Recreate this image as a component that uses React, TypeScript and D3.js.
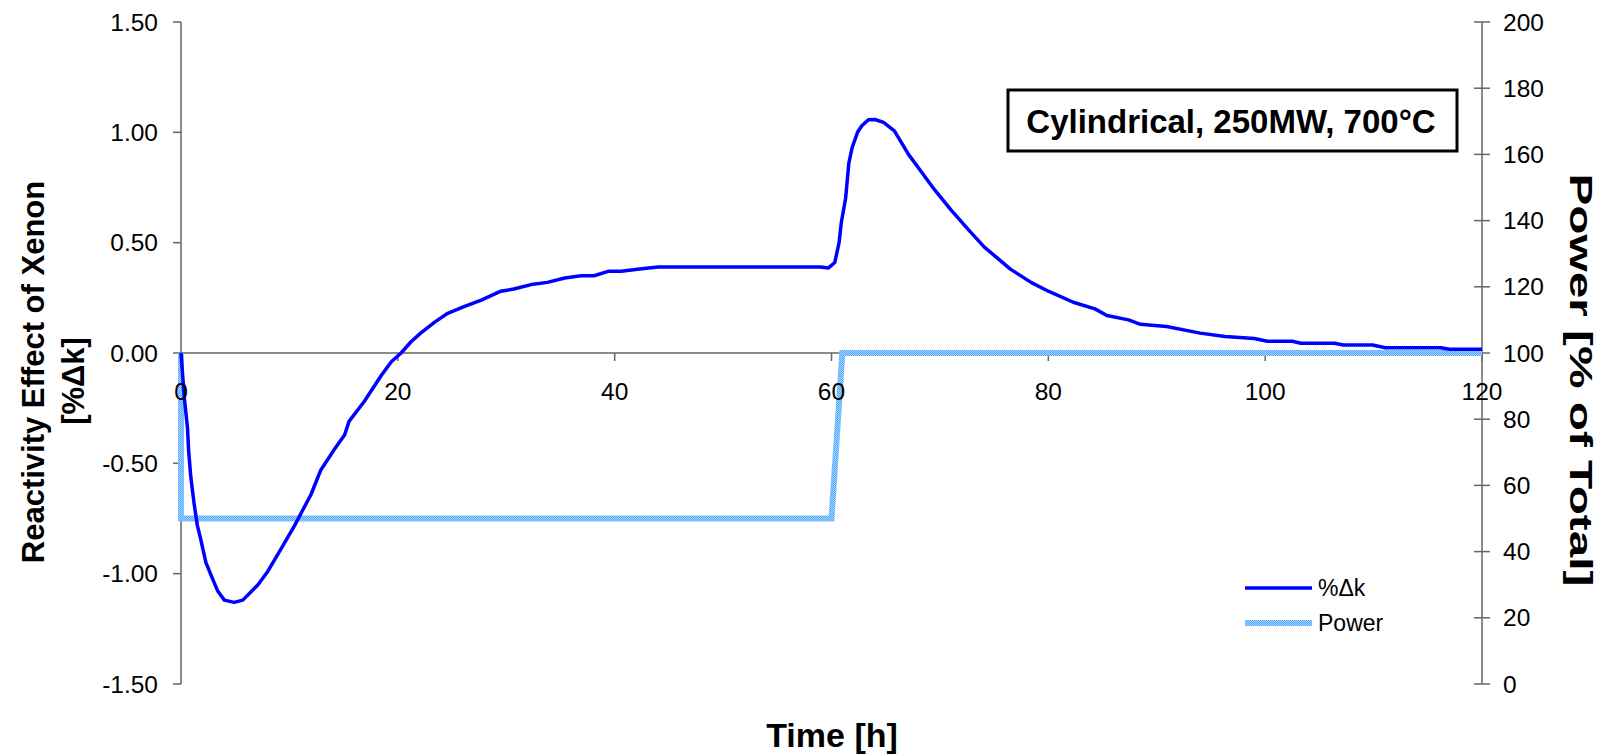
import React from 'react'
import * as d3 from 'd3'

// xenon reactivity (%Δk)
const timeH = [0, 0.3, 0.6, 0.7, 0.9, 1.2, 1.5, 1.8, 2.3, 2.8, 3.4, 4.0, 4.9, 5.7, 7.1, 8.0, 9.2, 10.5, 12.0, 12.9, 14.1, 15.1, 15.5, 16.9, 18.5, 19.4, 20.3, 21.2, 22.1, 23.4, 24.6, 26.1, 27.7, 29.5, 30.7, 32.3, 33.8, 35.4, 36.9, 38.1, 39.4, 40.6, 42.1, 44.0, 46.0, 59.0, 59.7, 60.3, 60.7, 60.9, 61.3, 61.6, 61.9, 62.4, 62.8, 63.4, 64.0, 64.8, 65.8, 67.1, 68.3, 69.5, 71.0, 72.6, 74.1, 75.3, 76.5, 78.4, 80.0, 82.3, 84.3, 85.4, 87.4, 88.5, 90.9, 94.0, 96.3, 99.0, 100.2, 102.5, 103.3, 106.4, 107.2, 109.9, 111.1, 116.2, 117.0, 120]
const deltaK = [0, -0.2, -0.34, -0.44, -0.56, -0.68, -0.78, -0.84, -0.95, -1.01, -1.08, -1.12, -1.13, -1.12, -1.05, -0.99, -0.89, -0.78, -0.64, -0.53, -0.44, -0.37, -0.31, -0.22, -0.1, -0.04, 0.0, 0.05, 0.09, 0.14, 0.18, 0.21, 0.24, 0.28, 0.29, 0.31, 0.32, 0.34, 0.35, 0.35, 0.37, 0.37, 0.38, 0.39, 0.39, 0.39, 0.385, 0.41, 0.5, 0.59, 0.7, 0.86, 0.93, 1.0, 1.03, 1.057, 1.058, 1.045, 1.007, 0.9, 0.82, 0.74, 0.65, 0.56, 0.48, 0.43, 0.38, 0.32, 0.28, 0.23, 0.2, 0.17, 0.15, 0.13, 0.12, 0.09, 0.075, 0.066, 0.053, 0.053, 0.044, 0.044, 0.036, 0.036, 0.024, 0.024, 0.017, 0.017]

// power history (% of total)
const powerT = [0, 0, 60, 61, 120]
const powerV = [100, 50, 50, 100, 100]

const xTicks = [0, 20, 40, 60, 80, 100, 120]
const yLeftTicks = [-1.5, -1.0, -0.5, 0, 0.5, 1.0, 1.5]
const yRightTicks = [0, 20, 40, 60, 80, 100, 120, 140, 160, 180, 200]

const FONT = 'Liberation Sans, Arial, sans-serif'
const AXIS = '#666'

export default function App() {
  const x = d3.scaleLinear().domain([0, 120]).range([181, 1482])
  const yL = d3.scaleLinear().domain([-1.5, 1.5]).range([684, 22])
  const yR = d3.scaleLinear().domain([0, 200]).range([684, 22])

  const dkLine = d3.line<number>()
    .x((_, i) => x(timeH[i]))
    .y(d => yL(d))
  const powLine = d3.line<number>()
    .x((_, i) => x(powerT[i]))
    .y(d => yR(d))

  const y0 = yL(0)

  return (
    <div style={{ position: 'absolute', left: 0, top: 0 }}>
      <svg width={1600} height={754} style={{ display: 'block', background: '#fff' }} fontFamily={FONT}>
        <defs>
          <pattern id="checker" width={2} height={2} patternUnits="userSpaceOnUse">
            <rect width={2} height={2} fill="#a8d4ff" />
            <rect width={1} height={1} fill="#4fa8ff" />
            <rect x={1} y={1} width={1} height={1} fill="#4fa8ff" />
          </pattern>
        </defs>

        {/* left axis */}
        <line x1={x(0)} x2={x(0)} y1={yL(1.5)} y2={yL(-1.5)} stroke={AXIS} strokeWidth={1.5} />
        {yLeftTicks.map(t => (
          <g key={t}>
            <line x1={x(0) - 8} x2={x(0)} y1={yL(t)} y2={yL(t)} stroke={AXIS} strokeWidth={1.5} />
            <text x={158} y={yL(t)} dy="0.35em" textAnchor="end" fontSize={24.5}>{t.toFixed(2)}</text>
          </g>
        ))}

        {/* right axis */}
        <line x1={x(120)} x2={x(120)} y1={yR(200)} y2={yR(0)} stroke={AXIS} strokeWidth={1.5} />
        {yRightTicks.map(t => (
          <g key={t}>
            <line x1={x(120) - 8} x2={x(120) + 8} y1={yR(t)} y2={yR(t)} stroke={AXIS} strokeWidth={1.5} />
            <text x={1503} y={yR(t)} dy="0.35em" fontSize={24.5}>{t}</text>
          </g>
        ))}

        {/* x axis along zero */}
        <line x1={x(0)} x2={x(120)} y1={y0} y2={y0} stroke={AXIS} strokeWidth={1.5} />
        {xTicks.map(t => (
          <line key={t} x1={x(t)} x2={x(t)} y1={y0} y2={y0 + 8} stroke={AXIS} strokeWidth={1.5} />
        ))}

        {/* series */}
        <path d={powLine(powerV) ?? ''} fill="none" stroke="url(#checker)" strokeWidth={6} />
        <path d={dkLine(deltaK) ?? ''} fill="none" stroke="#0000ff" strokeWidth={3.5} strokeLinejoin="round" />

        {xTicks.map(t => (
          <text key={t} x={x(t)} y={391} dy="0.35em" textAnchor="middle" fontSize={24.5}>{t}</text>
        ))}

        {/* axis titles */}
        <text transform="translate(33,372) rotate(-90)" dy="0.35em" textAnchor="middle" fontSize={31} fontWeight="bold">Reactivity Effect of Xenon</text>
        <text transform="translate(73,381) rotate(-90)" dy="0.35em" textAnchor="middle" fontSize={31} fontWeight="bold">[%Δk]</text>
        <text transform="translate(1581,380) rotate(90)" dy="0.35em" textAnchor="middle" fontSize={31} fontWeight="bold"
          textLength={413} lengthAdjust="spacingAndGlyphs">Power [% of Total]</text>
        <text x={832} y={735} dy="0.35em" textAnchor="middle" fontSize={34} fontWeight="bold">Time [h]</text>

        {/* annotation box */}
        <rect x={1008} y={90} width={449} height={61} fill="#fff" stroke="#000" strokeWidth={3} />
        <text x={1231} y={121} dy="0.35em" textAnchor="middle" fontSize={33} fontWeight="bold">Cylindrical, 250MW, 700°C</text>

        {/* legend */}
        <line x1={1245} x2={1312} y1={588} y2={588} stroke="#0000ff" strokeWidth={3.5} />
        <text x={1318} y={588} dy="0.35em" fontSize={23}>%Δk</text>
        <line x1={1245} x2={1312} y1={623} y2={623} stroke="url(#checker)" strokeWidth={6} />
        <text x={1318} y={623} dy="0.35em" fontSize={23}>Power</text>
      </svg>
    </div>
  )
}
